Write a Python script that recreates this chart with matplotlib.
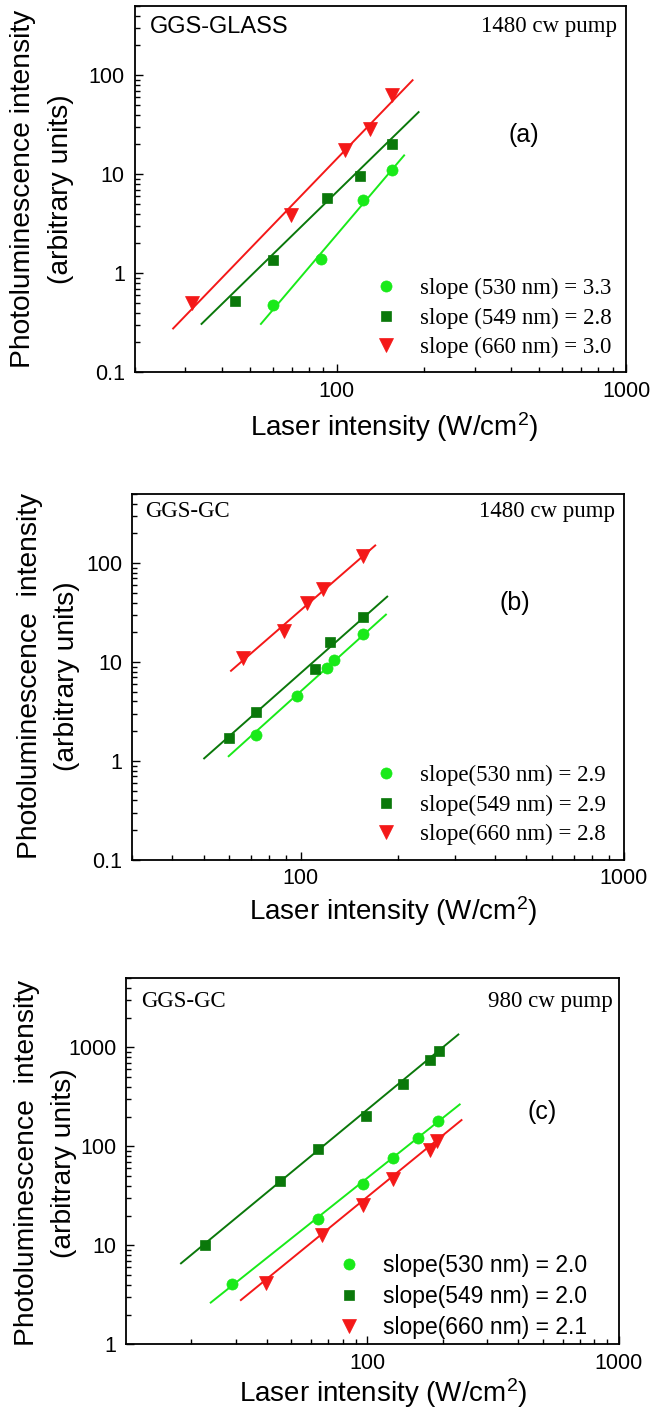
import matplotlib
matplotlib.use('Agg')
import matplotlib.pyplot as plt
from matplotlib.ticker import LogLocator, NullFormatter, FixedLocator, FixedFormatter

plt.rcParams['mathtext.fontset'] = 'custom'
plt.rcParams['mathtext.rm'] = 'Liberation Sans'
plt.rcParams['mathtext.default'] = 'regular'
plt.rcParams['font.family'] = ['Liberation Sans', 'DejaVu Sans']

SANS = ['Liberation Sans', 'DejaVu Sans']
SERIF = ['Liberation Serif', 'DejaVu Serif']

# ---------------- data ----------------
# panel (a) GGS-GLASS, 1480 cw pump
a_x530 = [60.3, 88.2, 123.6, 154.8]
a_y530 = [0.48, 1.40, 5.5, 11.1]
a_x549 = [44.4, 60.3, 92.4, 120.8, 154.8]
a_y549 = [0.52, 1.35, 5.7, 9.6, 20.2]
a_x660 = [31.7, 69.6, 107.2, 129.9, 155.9]
a_y660 = [0.50, 3.9, 17.5, 28.4, 63.0]
a_fx530 = [54.7, 171.0]; a_fy530 = [0.308, 15.5]
a_fx549 = [34.1, 191.9]; a_fy549 = [0.308, 42.4]
a_fx660 = [27.2, 182.9]; a_fy660 = [0.277, 89.0]
a_labels = ['slope (530 nm) = 3.3', 'slope (549 nm) = 2.8', 'slope (660 nm) = 3.0']

# panel (b) GGS-GC, 1480 cw pump
b_x530 = [72.7, 97.6, 120.3, 126.6, 155.5]
b_y530 = [1.82, 4.56, 8.7, 10.6, 19.1]
b_x549 = [59.8, 72.7, 111.0, 123.6, 155.5]
b_y549 = [1.71, 3.16, 8.43, 15.8, 28.6]
b_x660 = [66.3, 88.7, 104.6, 117.1, 155.5]
b_y660 = [10.9, 20.6, 39.3, 55.0, 117.0]
b_fx530 = [59.8, 183.6]; b_fy530 = [1.12, 30.2]
b_fx549 = [50.2, 185.3]; b_fy549 = [1.064, 45.9]
b_fx660 = [60.8, 170.1]; b_fy660 = [8.17, 151.0]
b_labels = ['slope(530 nm) = 2.9', 'slope(549 nm) = 2.9', 'slope(660 nm) = 2.8']

# panel (c) GGS-GC, 980 cw pump
c_x530 = [29.0, 63.9, 96.0, 127.3, 158.8, 191.7]
c_y530 = [4.04, 18.3, 42.0, 76.9, 122.4, 180.2]
c_x549 = [22.7, 45.0, 63.9, 98.7, 139.5, 177.8, 193.5]
c_y549 = [10.0, 45.0, 93.3, 202.0, 429.0, 739.0, 912.0]
c_x660 = [39.6, 66.1, 96.0, 127.3, 177.8, 190.5]
c_y660 = [4.2, 12.6, 25.4, 46.5, 92.5, 114.0]
c_fx530 = [23.9, 233.6]; c_fy530 = [2.64, 265.5]
c_fx549 = [18.2, 230.7]; c_fy549 = [6.58, 1352.0]
c_fx660 = [31.5, 237.5]; c_fy660 = [2.8, 184.6]
c_labels = ['slope(530 nm) = 2.0', 'slope(549 nm) = 2.0', 'slope(660 nm) = 2.1']

ab_yticks = [0.1, 1, 10, 100]
ab_yticklabels = ['0.1', '1', '10', '100']
c_yticks = [1, 10, 100, 1000]
c_yticklabels = ['1', '10', '100', '1000']
xticks = [100, 1000]
xticklabels = ['100', '1000']

# ---------------- style ----------------
C530 = '#19ea19'
C549 = '#0a780a'
C660 = '#f41818'

W, H = 652, 1407
fig = plt.figure(figsize=(W / 100, H / 100), dpi=100)


def rect(l, t, r, b):
    return [l / W, 1 - b / H, (r - l) / W, (b - t) / H]


def ftext(x, y, s, **kw):
    fig.text(x / W, 1 - y / H, s, **kw)


panels = [
    dict(rect=rect(134.5, 6, 626, 372.3), xlim=(20, 1000), ylim=(0.1, 500),
         yt=ab_yticks, ytl=ab_yticklabels,
         series=[(a_x530, a_y530, a_fx530, a_fy530),
                 (a_x549, a_y549, a_fx549, a_fy549),
                 (a_x660, a_y660, a_fx660, a_fy660)],
         labels=a_labels, legfont=SERIF, leg=(375, 318.3), hp=0.95,
         tl=('GGS-GLASS', SANS, 17, 149.5, 26.7), tr=('1480 cw pump', 616.7, 26.7),
         tag=('(a)', 524, 135),
         yl=('Photoluminescence intensity', 23.5, 61.5, 189),
         xl=(394.5, 436.3)),
    dict(rect=rect(132, 494, 623.5, 860), xlim=(30, 1000), ylim=(0.1, 500),
         yt=ab_yticks, ytl=ab_yticklabels,
         series=[(b_x530, b_y530, b_fx530, b_fy530),
                 (b_x549, b_y549, b_fx549, b_fy549),
                 (b_x660, b_y660, b_fx660, b_fy660)],
         labels=b_labels, legfont=SERIF, leg=(375, 805), hp=0.95,
         tl=('GGS-GC', SERIF, 16.5, 145, 511.7), tr=('1480 cw pump', 614.6, 511.7),
         tag=('(b)', 515, 603.3),
         yl=('Photoluminescence  intensity', 30.5, 66.5, 676),
         xl=(393, 920)),
    dict(rect=rect(126, 978.3, 618.5, 1344.3), xlim=(11, 1000), ylim=(1, 5000),
         yt=c_yticks, ytl=c_yticklabels,
         series=[(c_x530, c_y530, c_fx530, c_fy530),
                 (c_x549, c_y549, c_fx549, c_fy549),
                 (c_x660, c_y660, c_fx660, c_fy660)],
         labels=c_labels, legfont=SANS, leg=(338, 1296.7), hp=0.95,
         tl=('GGS-GC', SERIF, 16.5, 140.7, 1001.7), tr=('980 cw pump', 613, 1001.7),
         tag=('(c)', 541.7, 1111.7),
         yl=('Photoluminescence  intensity', 27, 64, 1163),
         xl=(383.5, 1401.7)),
]

styles = [(C530, 'o', 8.0), (C549, 's', 7.0), (C660, 'v', 9.5)]

for p in panels:
    ax = fig.add_axes(p['rect'])
    ax.set_xscale('log')
    ax.set_yscale('log')
    handles = []
    for (x, y, fxv, fyv), (col, mk, ms), lab in zip(p['series'], styles, p['labels']):
        ax.plot(fxv, fyv, color=col, lw=1.4, zorder=2)
        h, = ax.plot(x, y, ls='none', marker=mk, ms=ms, color=col, mec=col,
                     mew=0.5, zorder=3, label=lab)
        handles.append(h)
    ax.set_xlim(*p['xlim'])
    ax.set_ylim(*p['ylim'])

    ax.xaxis.set_major_locator(FixedLocator(xticks))
    ax.xaxis.set_major_formatter(FixedFormatter(xticklabels))
    ax.xaxis.set_minor_locator(LogLocator(base=10, subs=range(2, 10), numticks=20))
    ax.xaxis.set_minor_formatter(NullFormatter())
    ax.yaxis.set_major_locator(FixedLocator(p['yt']))
    ax.yaxis.set_major_formatter(FixedFormatter(p['ytl']))
    ax.yaxis.set_minor_locator(LogLocator(base=10, subs=range(2, 10), numticks=20))
    ax.yaxis.set_minor_formatter(NullFormatter())

    ax.tick_params(which='both', direction='in', top=False, right=False,
                   width=1.0, colors='black')
    ax.tick_params(which='major', length=6)
    ax.tick_params(which='minor', length=3.5)
    ax.tick_params(axis='x', which='major', pad=6, labelsize=15.5)
    ax.tick_params(axis='y', which='major', pad=7, labelsize=15.5)
    for lbl in ax.get_xticklabels() + ax.get_yticklabels():
        lbl.set_family(SANS)
    for s in ax.spines.values():
        s.set_linewidth(1.3)

    lx, ly = p['leg']
    leg = ax.legend(handles=handles, loc='center left',
                    bbox_to_anchor=(lx / W, 1 - ly / H),
                    bbox_transform=fig.transFigure, frameon=False,
                    borderpad=0, borderaxespad=0, handlelength=1.0,
                    handletextpad=p['hp'], labelspacing=0.36,
                    prop=dict(family=p['legfont'], size=16.5))

    txt, fam, fs, tx, ty = p['tl']
    ftext(tx, ty, txt, family=fam, fontsize=fs, ha='left', va='center')
    txt, tx, ty = p['tr']
    ftext(tx, ty, txt, family=SERIF, fontsize=16.5, ha='right', va='center')
    txt, tx, ty = p['tag']
    ftext(tx, ty, txt, family=SANS, fontsize=18, ha='center', va='center')

    ytxt, x1, x2, yc = p['yl']
    ftext(x1, yc, ytxt, family=SANS, fontsize=20.3, rotation=90,
          ha='center', va='center')
    ftext(x2, yc, '(arbitrary units)', family=SANS, fontsize=20.3, rotation=90,
          ha='center', va='center')
    xc, yb = p['xl']
    ftext(xc, yb, 'Laser intensity (W/cm$^{2}$)', family=SANS, fontsize=20,
          ha='center', va='baseline')

fig.savefig('out.png', dpi=100)
